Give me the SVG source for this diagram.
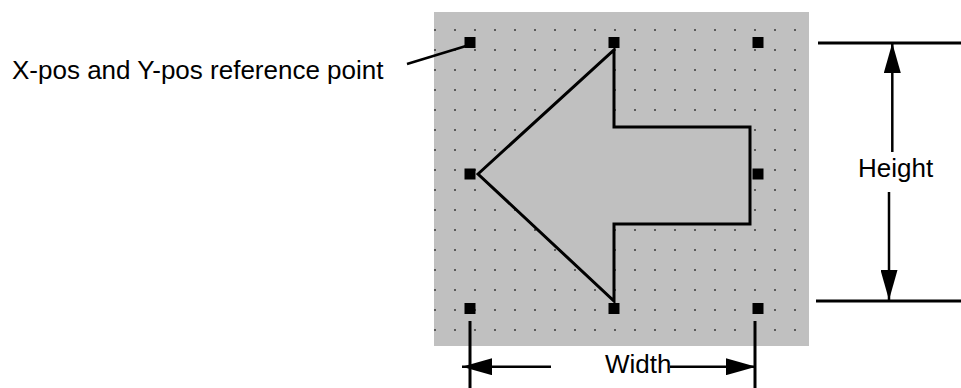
<svg xmlns="http://www.w3.org/2000/svg" width="961" height="388" viewBox="0 0 961 388">
  <style>
    .lbl { font-family: "Liberation Sans", Arial, sans-serif; font-size: 26px; fill: #000; }
    .handle { fill: #000; }
    .ln { stroke: #000; stroke-width: 2.5; fill: none; }
    .ext { stroke: #000; stroke-width: 3; fill: none; }
  </style>
  <defs>
    <pattern id="dots" patternUnits="userSpaceOnUse" x="434" y="29" width="20" height="20">
      <rect x="0" y="0" width="2" height="2" fill="#5a5a5a"/>
    </pattern>
    <marker id="arr" viewBox="0 0 30 17" refX="30" refY="8.5" markerWidth="30" markerHeight="17" markerUnits="userSpaceOnUse" orient="auto">
      <path d="M0,0 L30,8.5 L0,17 Z" fill="#000"/>
    </marker>
  </defs>

  <g id="canvas">
    <rect x="434" y="12" width="375" height="334" fill="#c0c0c0"/>
    <rect x="434" y="29" width="375" height="317" fill="url(#dots)"/>
  </g>

  <g id="arrow-shape">
    <polygon points="478,174 614,50 614,127 750,127 750,224 614,224 614,301" fill="#c0c0c0" stroke="#000" stroke-width="3" stroke-linejoin="miter"/>
  </g>

  <g id="handles">
    <rect class="handle" x="464.5" y="37" width="11" height="11"/>
    <rect class="handle" x="608.5" y="37" width="11" height="11"/>
    <rect class="handle" x="752.5" y="37" width="11" height="11"/>
    <rect class="handle" x="464.5" y="168.5" width="11" height="11"/>
    <rect class="handle" x="752.5" y="168.5" width="11" height="11"/>
    <rect class="handle" x="464.5" y="303" width="11" height="11"/>
    <rect class="handle" x="608.5" y="303" width="11" height="11"/>
    <rect class="handle" x="752.5" y="303" width="11" height="11"/>
  </g>

  <g id="label-reference">
    <text class="lbl" x="12" y="78.5">X-pos and Y-pos reference point</text>
  </g>
  <g id="label-height">
    <text class="lbl" x="858" y="177">Height</text>
  </g>
  <g id="label-width">
    <text class="lbl" x="605" y="372.5">Width</text>
  </g>

  <g id="connectors">
    <line class="ln" x1="407" y1="64" x2="466" y2="46"/>
    <line class="ext" x1="818" y1="43" x2="961" y2="43"/>
    <line class="ext" x1="816" y1="301" x2="961" y2="301"/>
    <line class="ext" x1="470" y1="321" x2="470" y2="388"/>
    <line class="ext" x1="755" y1="321" x2="755" y2="388"/>
    <line class="ln" x1="892.3" y1="152" x2="892.3" y2="43" marker-end="url(#arr)"/>
    <line class="ln" x1="889" y1="192" x2="889" y2="300" marker-end="url(#arr)"/>
    <line class="ln" x1="551" y1="366.7" x2="462" y2="366.7" marker-end="url(#arr)"/>
    <line class="ln" x1="670" y1="366.7" x2="756" y2="366.7" marker-end="url(#arr)"/>
  </g>
</svg>
